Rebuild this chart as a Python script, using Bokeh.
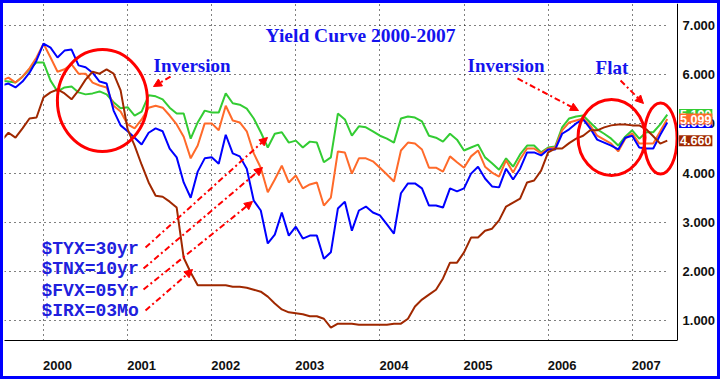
from bokeh.plotting import figure
from bokeh.models import (Range1d, FixedTicker, PrintfTickFormatter, Label, Arrow,
                          NormalHead, CustomJSTickFormatter, Grid)
from bokeh.embed import file_html
from bokeh.resources import INLINE

# ---------------- data (monthly, from July 1999) ----------------
month_index = list(range(96))
dates = [1999.5 + m / 12 for m in month_index]

tyx30 = [5.88, 5.86, 5.84, 5.96, 6.11, 6.25, 6.25, 5.88, 5.66, 5.74,
         5.76, 5.64, 5.60, 5.62, 5.66, 5.60, 5.44, 5.32, 5.34, 5.17,
         5.25, 5.58, 5.56, 5.50, 5.33, 5.21, 5.21, 4.70, 5.03, 5.27,
         5.23, 5.23, 5.62, 5.42, 5.39, 5.31, 5.11, 4.83, 4.52, 4.80,
         4.83, 4.62, 4.66, 4.52, 4.64, 4.62, 4.22, 4.32, 5.21, 5.09,
         4.76, 4.95, 4.93, 4.85, 4.76, 4.70, 4.62, 5.11, 5.15, 5.13,
         5.05, 4.76, 4.72, 4.64, 4.80, 4.68, 4.46, 4.52, 4.58, 4.32,
         4.20, 4.07, 4.30, 4.13, 4.38, 4.56, 4.56, 4.42, 4.52, 4.54,
         4.93, 5.11, 5.15, 5.17, 5.03, 4.89, 4.80, 4.70, 4.56, 4.74,
         4.87, 4.70, 4.83, 4.83, 4.99, 5.19]

tnx10 = [5.88, 5.94, 5.84, 5.96, 6.13, 6.35, 6.63, 6.35, 6.06, 6.11,
         6.21, 6.02, 6.02, 5.84, 5.78, 5.74, 5.37, 5.25, 4.99, 4.91,
         5.09, 5.33, 5.37, 5.33, 5.17, 4.99, 4.74, 4.30, 4.56, 5.01,
         5.01, 4.87, 5.37, 5.07, 5.03, 4.85, 4.40, 4.11, 3.61, 3.87,
         4.15, 3.81, 3.95, 3.69, 3.77, 3.81, 3.34, 3.50, 4.44, 4.42,
         3.99, 4.30, 4.30, 4.24, 4.11, 3.97, 3.83, 4.46, 4.62, 4.60,
         4.48, 4.11, 4.11, 4.03, 4.34, 4.22, 4.11, 4.34, 4.46, 4.13,
         4.01, 3.93, 4.26, 4.01, 4.28, 4.50, 4.50, 4.40, 4.50, 4.52,
         4.87, 5.03, 5.07, 5.11, 4.97, 4.76, 4.68, 4.60, 4.44, 4.70,
         4.81, 4.60, 4.60, 4.60, 4.85, 5.099]

fvx05 = [5.78, 5.82, 5.74, 5.86, 6.04, 6.29, 6.63, 6.55, 6.35, 6.49,
         6.51, 6.19, 6.15, 6.04, 5.86, 5.82, 5.27, 4.97, 4.85, 4.72,
         4.58, 4.82, 4.91, 4.85, 4.50, 4.32, 3.81, 3.50, 4.03, 4.30,
         4.32, 4.19, 4.78, 4.40, 4.34, 4.09, 3.44, 3.24, 2.57, 2.75,
         3.20, 2.73, 2.91, 2.67, 2.73, 2.73, 2.26, 2.39, 3.28, 3.42,
         2.83, 3.24, 3.32, 3.20, 3.14, 2.96, 2.77, 3.59, 3.79, 3.79,
         3.69, 3.34, 3.34, 3.30, 3.69, 3.63, 3.69, 3.99, 4.13, 3.89,
         3.73, 3.71, 4.09, 3.87, 4.09, 4.42, 4.42, 4.36, 4.48, 4.48,
         4.80, 4.89, 5.01, 5.09, 4.91, 4.68, 4.62, 4.56, 4.48, 4.72,
         4.76, 4.52, 4.50, 4.50, 4.78, 5.03]

irx03 = [4.66, 4.82, 4.72, 4.91, 5.11, 5.13, 5.54, 5.64, 5.70, 5.62,
         5.50, 5.68, 5.90, 6.06, 6.02, 6.11, 6.02, 5.68, 4.89, 4.56,
         4.17, 3.81, 3.54, 3.52, 3.42, 3.30, 2.28, 1.98, 1.72, 1.72,
         1.72, 1.72, 1.72, 1.69, 1.69, 1.67, 1.63, 1.59, 1.49, 1.35,
         1.23, 1.17, 1.15, 1.13, 1.09, 1.09, 1.04, 0.86, 0.94, 0.94,
         0.94, 0.92, 0.92, 0.92, 0.92, 0.92, 0.94, 0.94, 1.04, 1.29,
         1.43, 1.53, 1.63, 1.86, 2.18, 2.18, 2.39, 2.69, 2.69, 2.83,
         2.87, 3.04, 3.32, 3.40, 3.48, 3.81, 3.85, 4.05, 4.42, 4.50,
         4.50, 4.61, 4.70, 4.76, 4.87, 4.87, 4.93, 4.97, 4.99, 4.99,
         4.97, 4.97, 4.89, 4.75, 4.60, 4.660]

year_ticks = [2000, 2001, 2002, 2003, 2004, 2005, 2006, 2007]
rate_ticks = [1, 2, 3, 4, 5, 6, 7]
legend_labels = ["$TYX=30yr", "$TNX=10yr", "$FVX=05Yr", "$IRX=03Mo"]
title_text = "Yield Curve 2000-2007"

GREEN = "#33cc33"
ORANGE = "#ff6a2a"
BLUE = "#0000ff"
BROWN = "#a02800"
RED = "#ff0000"
TXT_BLUE = "#1414ee"

X_START, X_AXIS_END, X_END = 1999.536, 2007.539, 2008.014

# ---------------- figure ----------------
p = figure(width=720, height=379,
           x_range=Range1d(X_START, X_END), y_range=Range1d(0.598, 7.447),
           y_axis_location="right", output_backend="svg", toolbar_location=None,
           min_border_left=1, min_border_top=0, min_border_right=6, min_border_bottom=42)
p.styles = {"border": "3px solid #0000ff"}
p.outline_line_color = None
p.background_fill_color = "white"
p.border_fill_color = "white"

grid_xt = FixedTicker(ticks=year_ticks)
# year labels start at the year line: tick a little right of it, label = the year
label_xt = FixedTicker(ticks=[y + 0.1665 for y in year_ticks])
yt = FixedTicker(ticks=rate_ticks)
p.xaxis.ticker = label_xt
p.xaxis.formatter = CustomJSTickFormatter(code="return Math.floor(tick).toString()")
p.xaxis.bounds = (X_START, X_AXIS_END)
p.yaxis.ticker = yt
p.yaxis.formatter = PrintfTickFormatter(format="%.3f")
p.yaxis.fixed_location = X_AXIS_END
for ax in (p.xaxis, p.yaxis):
    ax.major_tick_in = 0
    ax.major_tick_out = 0
    ax.minor_tick_in = 0
    ax.minor_tick_out = 0
    ax.axis_line_color = "black"
    ax.axis_line_width = 1
    ax.major_label_text_font = "Liberation Sans"
    ax.major_label_text_font_style = "bold"
    ax.major_label_text_font_size = "13px"
    ax.major_label_text_color = "#111111"
p.xaxis.major_label_standoff = 20
p.yaxis.major_label_standoff = 5

p.xgrid.ticker = grid_xt
p.ygrid.ticker = yt
for g in (p.xgrid, p.ygrid):
    g.grid_line_color = "black"
    g.grid_line_dash = "1 4"
    g.grid_line_width = 1
if "cross_bounds" in Grid.properties():
    p.ygrid.cross_bounds = (X_START, 2007.43)

# ---------------- lines ----------------
p.line(dates, tyx30, line_color=GREEN, line_width=2)
p.line(dates, tnx10, line_color=ORANGE, line_width=2)
p.line(dates, fvx05, line_color=BLUE, line_width=2)
p.line(dates, irx03, line_color=BROWN, line_width=2)

# ---------------- red circles ----------------
p.ellipse(x=[2000.70, 2006.754, 2007.337], y=[5.476, 4.724, 4.703],
          width=[1.07, 0.797, 0.392], height=[2.073, 1.545, 1.443],
          fill_color=None, line_color=RED, line_width=3)

# ---------------- texts ----------------
def add_text(x, y, text, font, size, color):
    p.add_layout(Label(x=x, y=y, text=text, text_font=font, text_font_size=size,
                       text_font_style="bold", text_color=color,
                       text_align="left", text_baseline="middle"))

add_text(2002.64, 6.80, title_text, "Liberation Serif", "19.5px", TXT_BLUE)
add_text(2001.308, 6.187, "Inversion", "Liberation Serif", "19px", TXT_BLUE)
add_text(2005.042, 6.187, "Inversion", "Liberation Serif", "19px", TXT_BLUE)
add_text(2006.564, 6.146, "Flat", "Liberation Serif", "19px", TXT_BLUE)

legend_y = [2.467, 2.041, 1.614, 1.207]
for lbl, ly in zip(legend_labels, legend_y):
    add_text(1999.976, ly, lbl, "Liberation Mono", "18px", "#2020dd")

# ---------------- arrows ----------------
arrows = [
    (2001.213, 2.488, 2002.663, 4.724),
    (2001.189, 2.061, 2002.604, 4.114),
    (2001.189, 1.634, 2002.485, 3.423),
    (2001.213, 1.207, 2001.772, 2.041),
    (2001.510, 5.963, 2001.308, 5.760),
    (2005.636, 5.923, 2006.361, 5.272),
    (2006.861, 5.882, 2007.134, 5.415),
]
for xs, ys, xe, ye in arrows:
    p.add_layout(Arrow(x_start=xs, y_start=ys, x_end=xe, y_end=ye,
                       line_color=RED, line_width=2, line_dash="6 3 2 3",
                       end=NormalHead(size=8, fill_color=RED, line_color=RED, line_width=1)))

# ---------------- last-value boxes ----------------
for series, col in ((tyx30, GREEN), (fvx05, BLUE), (tnx10, ORANGE), (irx03, BROWN)):
    p.add_layout(Label(x=2007.557, y=series[-1], text=f"{series[-1]:.3f}",
                       text_font="Liberation Sans", text_font_style="bold",
                       text_font_size="12.5px", text_color="white",
                       text_align="left", text_baseline="middle",
                       background_fill_color=col, padding=1))

open("out.html", "w").write(file_html(p, INLINE))
